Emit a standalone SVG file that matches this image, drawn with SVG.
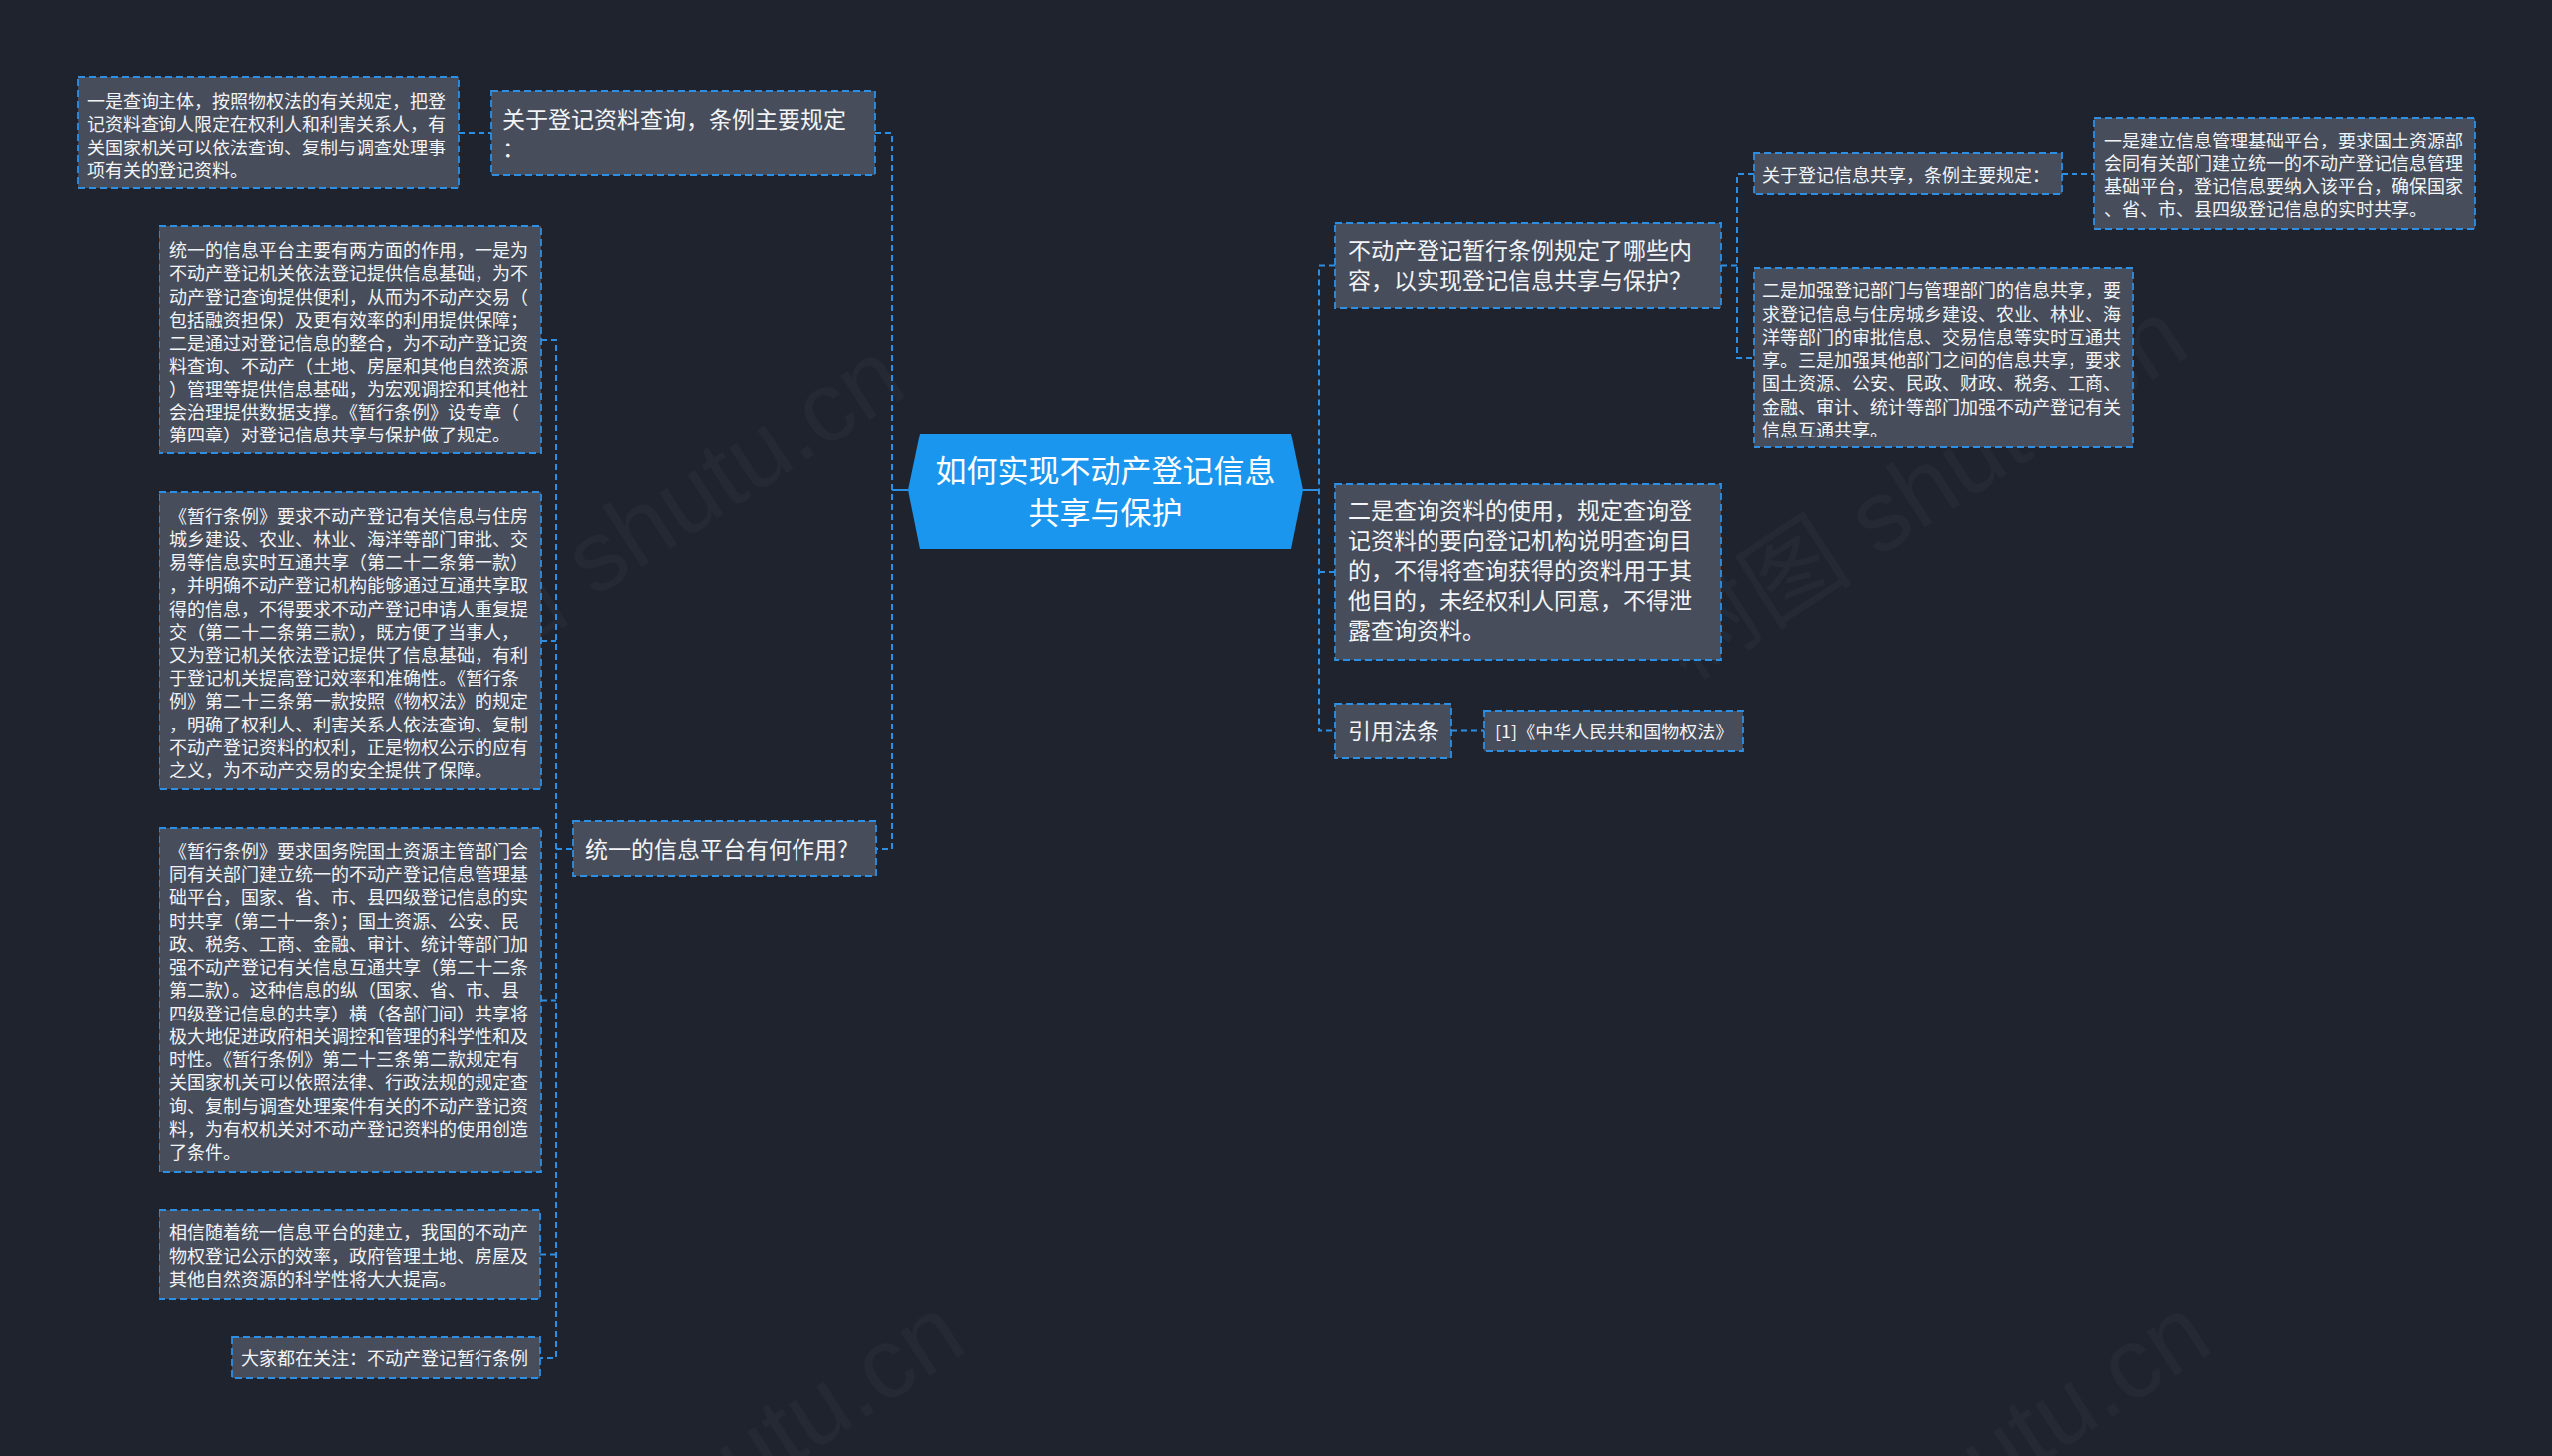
<svg xmlns="http://www.w3.org/2000/svg" width="2560" height="1461" viewBox="0 0 2560 1461">
<style>
.bg{fill:#1f232e}
.box{fill:#474d5b;stroke:#2b8fe6;stroke-width:1.8;stroke-dasharray:7 4}
.t{font-family:"Noto Sans CJK SC","Noto Sans",sans-serif;fill:#f2f4f7}
.s{font-size:18px}
.m{font-size:23px}
.c{font-size:31px;fill:#ffffff}
.ln{stroke:#2b8fe6;stroke-width:2;fill:none;stroke-dasharray:6 4}
.sol{stroke:#2b8fe6;stroke-width:2;fill:none}
.wm{font-family:"Liberation Sans","Noto Sans CJK SC",sans-serif;font-size:100px;fill:#ffffff;opacity:0.025}
</style>
<rect class="bg" x="0" y="0" width="2560" height="1461"/>
<g id="watermark">
<text class="wm" x="640" y="565" text-anchor="middle" transform="rotate(-33 640 530)">树图 shutu.cn</text>
<text class="wm" x="1927" y="525" text-anchor="middle" transform="rotate(-33 1927 490)">树图 shutu.cn</text>
<text class="wm" x="700" y="1525" text-anchor="middle" transform="rotate(-33 700 1490)">树图 shutu.cn</text>
<text class="wm" x="1950" y="1525" text-anchor="middle" transform="rotate(-33 1950 1490)">树图 shutu.cn</text>
</g>
<g id="connectors">
<path class="ln" d="M460,133 H493"/>
<path class="ln" d="M878,133 H895 V852 H879"/>
<path class="sol" d="M895,492 H911"/>
<path class="ln" d="M558,852 H575"/>
<path class="ln" d="M543,341 H558 V1363 H542"/>
<path class="ln" d="M543,643 H558"/>
<path class="ln" d="M543,1003.5 H558"/>
<path class="ln" d="M542,1258.5 H558"/>
<path class="sol" d="M1307,492 H1323"/>
<path class="ln" d="M1339,266.5 H1323 V733.5 H1339"/>
<path class="ln" d="M1323,574 H1339"/>
<path class="ln" d="M1456,733.5 H1489"/>
<path class="ln" d="M1726,266.5 H1742"/>
<path class="ln" d="M1759,175 H1742 V359 H1759"/>
<path class="ln" d="M2068,175 H2101"/>
</g>
<g id="center">
<polygon points="923,435 1295,435 1307,492 1295,551 923,551 911,492" fill="#1b96ee"/>
<text class="t c" text-anchor="middle"><tspan x="1109" y="484">如何实现不动产登记信息</tspan><tspan x="1109" y="526">共享与保护</tspan></text>
</g>
<g id="nodeB">
<rect class="box" x="493" y="91" width="385" height="85"/>
<text class="t m"><tspan x="504" y="128">关于登记资料查询，条例主要规定</tspan><tspan x="504" y="158">：</tspan></text>
</g>
<g id="nodeA">
<rect class="box" x="78" y="77" width="382" height="112"/>
<text class="t s"><tspan x="87" y="108">一是查询主体，按照物权法的有关规定，把登</tspan><tspan x="87" y="131.3">记资料查询人限定在权利人和利害关系人，有</tspan><tspan x="87" y="154.6">关国家机关可以依法查询、复制与调查处理事</tspan><tspan x="87" y="177.9">项有关的登记资料。</tspan></text>
</g>
<g id="nodeD">
<rect class="box" x="575" y="824" width="304" height="55"/>
<text class="t m" x="587" y="861">统一的信息平台有何作用?</text>
</g>
<g id="nodeC1">
<rect class="box" x="160" y="227" width="383" height="228"/>
<text class="t s"><tspan x="170" y="258.2">统一的信息平台主要有两方面的作用，一是为</tspan><tspan x="170" y="281.35">不动产登记机关依法登记提供信息基础，为不</tspan><tspan x="170" y="304.5">动产登记查询提供便利，从而为不动产交易（</tspan><tspan x="170" y="327.65">包括融资担保）及更有效率的利用提供保障；</tspan><tspan x="170" y="350.8">二是通过对登记信息的整合，为不动产登记资</tspan><tspan x="170" y="373.95">料查询、不动产（土地、房屋和其他自然资源</tspan><tspan x="170" y="397.1">）管理等提供信息基础，为宏观调控和其他社</tspan><tspan x="170" y="420.25">会治理提供数据支撑。《暂行条例》设专章（</tspan><tspan x="170" y="443.4">第四章）对登记信息共享与保护做了规定。</tspan></text>
</g>
<g id="nodeC2">
<rect class="box" x="160" y="494" width="383" height="298"/>
<text class="t s"><tspan x="170" y="524.8">《暂行条例》要求不动产登记有关信息与住房</tspan><tspan x="170" y="548">城乡建设、农业、林业、海洋等部门审批、交</tspan><tspan x="170" y="571.2">易等信息实时互通共享（第二十二条第一款）</tspan><tspan x="170" y="594.4">，并明确不动产登记机构能够通过互通共享取</tspan><tspan x="170" y="617.6">得的信息，不得要求不动产登记申请人重复提</tspan><tspan x="170" y="640.8">交（第二十二条第三款），既方便了当事人，</tspan><tspan x="170" y="664">又为登记机关依法登记提供了信息基础，有利</tspan><tspan x="170" y="687.2">于登记机关提高登记效率和准确性。《暂行条</tspan><tspan x="170" y="710.4">例》第二十三条第一款按照《物权法》的规定</tspan><tspan x="170" y="733.6">，明确了权利人、利害关系人依法查询、复制</tspan><tspan x="170" y="756.8">不动产登记资料的权利，正是物权公示的应有</tspan><tspan x="170" y="780">之义，为不动产交易的安全提供了保障。</tspan></text>
</g>
<g id="nodeC3">
<rect class="box" x="160" y="831" width="383" height="345"/>
<text class="t s"><tspan x="170" y="860.8">《暂行条例》要求国务院国土资源主管部门会</tspan><tspan x="170" y="884.06">同有关部门建立统一的不动产登记信息管理基</tspan><tspan x="170" y="907.32">础平台，国家、省、市、县四级登记信息的实</tspan><tspan x="170" y="930.58">时共享（第二十一条）；国土资源、公安、民</tspan><tspan x="170" y="953.84">政、税务、工商、金融、审计、统计等部门加</tspan><tspan x="170" y="977.1">强不动产登记有关信息互通共享（第二十二条</tspan><tspan x="170" y="1000.36">第二款）。这种信息的纵（国家、省、市、县</tspan><tspan x="170" y="1023.62">四级登记信息的共享）横（各部门间）共享将</tspan><tspan x="170" y="1046.88">极大地促进政府相关调控和管理的科学性和及</tspan><tspan x="170" y="1070.14">时性。《暂行条例》第二十三条第二款规定有</tspan><tspan x="170" y="1093.4">关国家机关可以依照法律、行政法规的规定查</tspan><tspan x="170" y="1116.66">询、复制与调查处理案件有关的不动产登记资</tspan><tspan x="170" y="1139.92">料，为有权机关对不动产登记资料的使用创造</tspan><tspan x="170" y="1163.18">了条件。</tspan></text>
</g>
<g id="nodeC4">
<rect class="box" x="160" y="1214" width="382" height="89"/>
<text class="t s"><tspan x="170" y="1243.2">相信随着统一信息平台的建立，我国的不动产</tspan><tspan x="170" y="1266.5">物权登记公示的效率，政府管理土地、房屋及</tspan><tspan x="170" y="1289.8">其他自然资源的科学性将大大提高。</tspan></text>
</g>
<g id="nodeC5">
<rect class="box" x="233" y="1342" width="309" height="41"/>
<text class="t s" x="242" y="1369.5">大家都在关注：不动产登记暂行条例</text>
</g>
<g id="nodeE">
<rect class="box" x="1339" y="224" width="387" height="85"/>
<text class="t m"><tspan x="1352" y="259.7">不动产登记暂行条例规定了哪些内</tspan><tspan x="1352" y="289.7">容，以实现登记信息共享与保护？</tspan></text>
</g>
<g id="nodeF">
<rect class="box" x="1339" y="486" width="387" height="176"/>
<text class="t m"><tspan x="1352" y="521.3">二是查询资料的使用，规定查询登</tspan><tspan x="1352" y="551.3">记资料的要向登记机构说明查询目</tspan><tspan x="1352" y="581.3">的，不得将查询获得的资料用于其</tspan><tspan x="1352" y="611.3">他目的，未经权利人同意，不得泄</tspan><tspan x="1352" y="641.3">露查询资料。</tspan></text>
</g>
<g id="nodeG">
<rect class="box" x="1339" y="706" width="117" height="55"/>
<text class="t m" x="1352" y="741.5">引用法条</text>
</g>
<g id="nodeH">
<rect class="box" x="1489" y="713" width="259" height="41"/>
<text class="t s" x="1500" y="741">[1]《中华人民共和国物权法》</text>
</g>
<g id="nodeI">
<rect class="box" x="1759" y="154" width="309" height="41"/>
<text class="t s" x="1768" y="183.2">关于登记信息共享，条例主要规定：</text>
</g>
<g id="nodeJ">
<rect class="box" x="2101" y="118" width="382" height="112"/>
<text class="t s"><tspan x="2111" y="147.5">一是建立信息管理基础平台，要求国土资源部</tspan><tspan x="2111" y="170.8">会同有关部门建立统一的不动产登记信息管理</tspan><tspan x="2111" y="194.1">基础平台，登记信息要纳入该平台，确保国家</tspan><tspan x="2111" y="217.4">、省、市、县四级登记信息的实时共享。</tspan></text>
</g>
<g id="nodeK">
<rect class="box" x="1759" y="269" width="381" height="180"/>
<text class="t s"><tspan x="1768" y="298.2">二是加强登记部门与管理部门的信息共享，要</tspan><tspan x="1768" y="321.5">求登记信息与住房城乡建设、农业、林业、海</tspan><tspan x="1768" y="344.8">洋等部门的审批信息、交易信息等实时互通共</tspan><tspan x="1768" y="368.1">享。三是加强其他部门之间的信息共享，要求</tspan><tspan x="1768" y="391.4">国土资源、公安、民政、财政、税务、工商、</tspan><tspan x="1768" y="414.7">金融、审计、统计等部门加强不动产登记有关</tspan><tspan x="1768" y="438">信息互通共享。</tspan></text>
</g>
</svg>
